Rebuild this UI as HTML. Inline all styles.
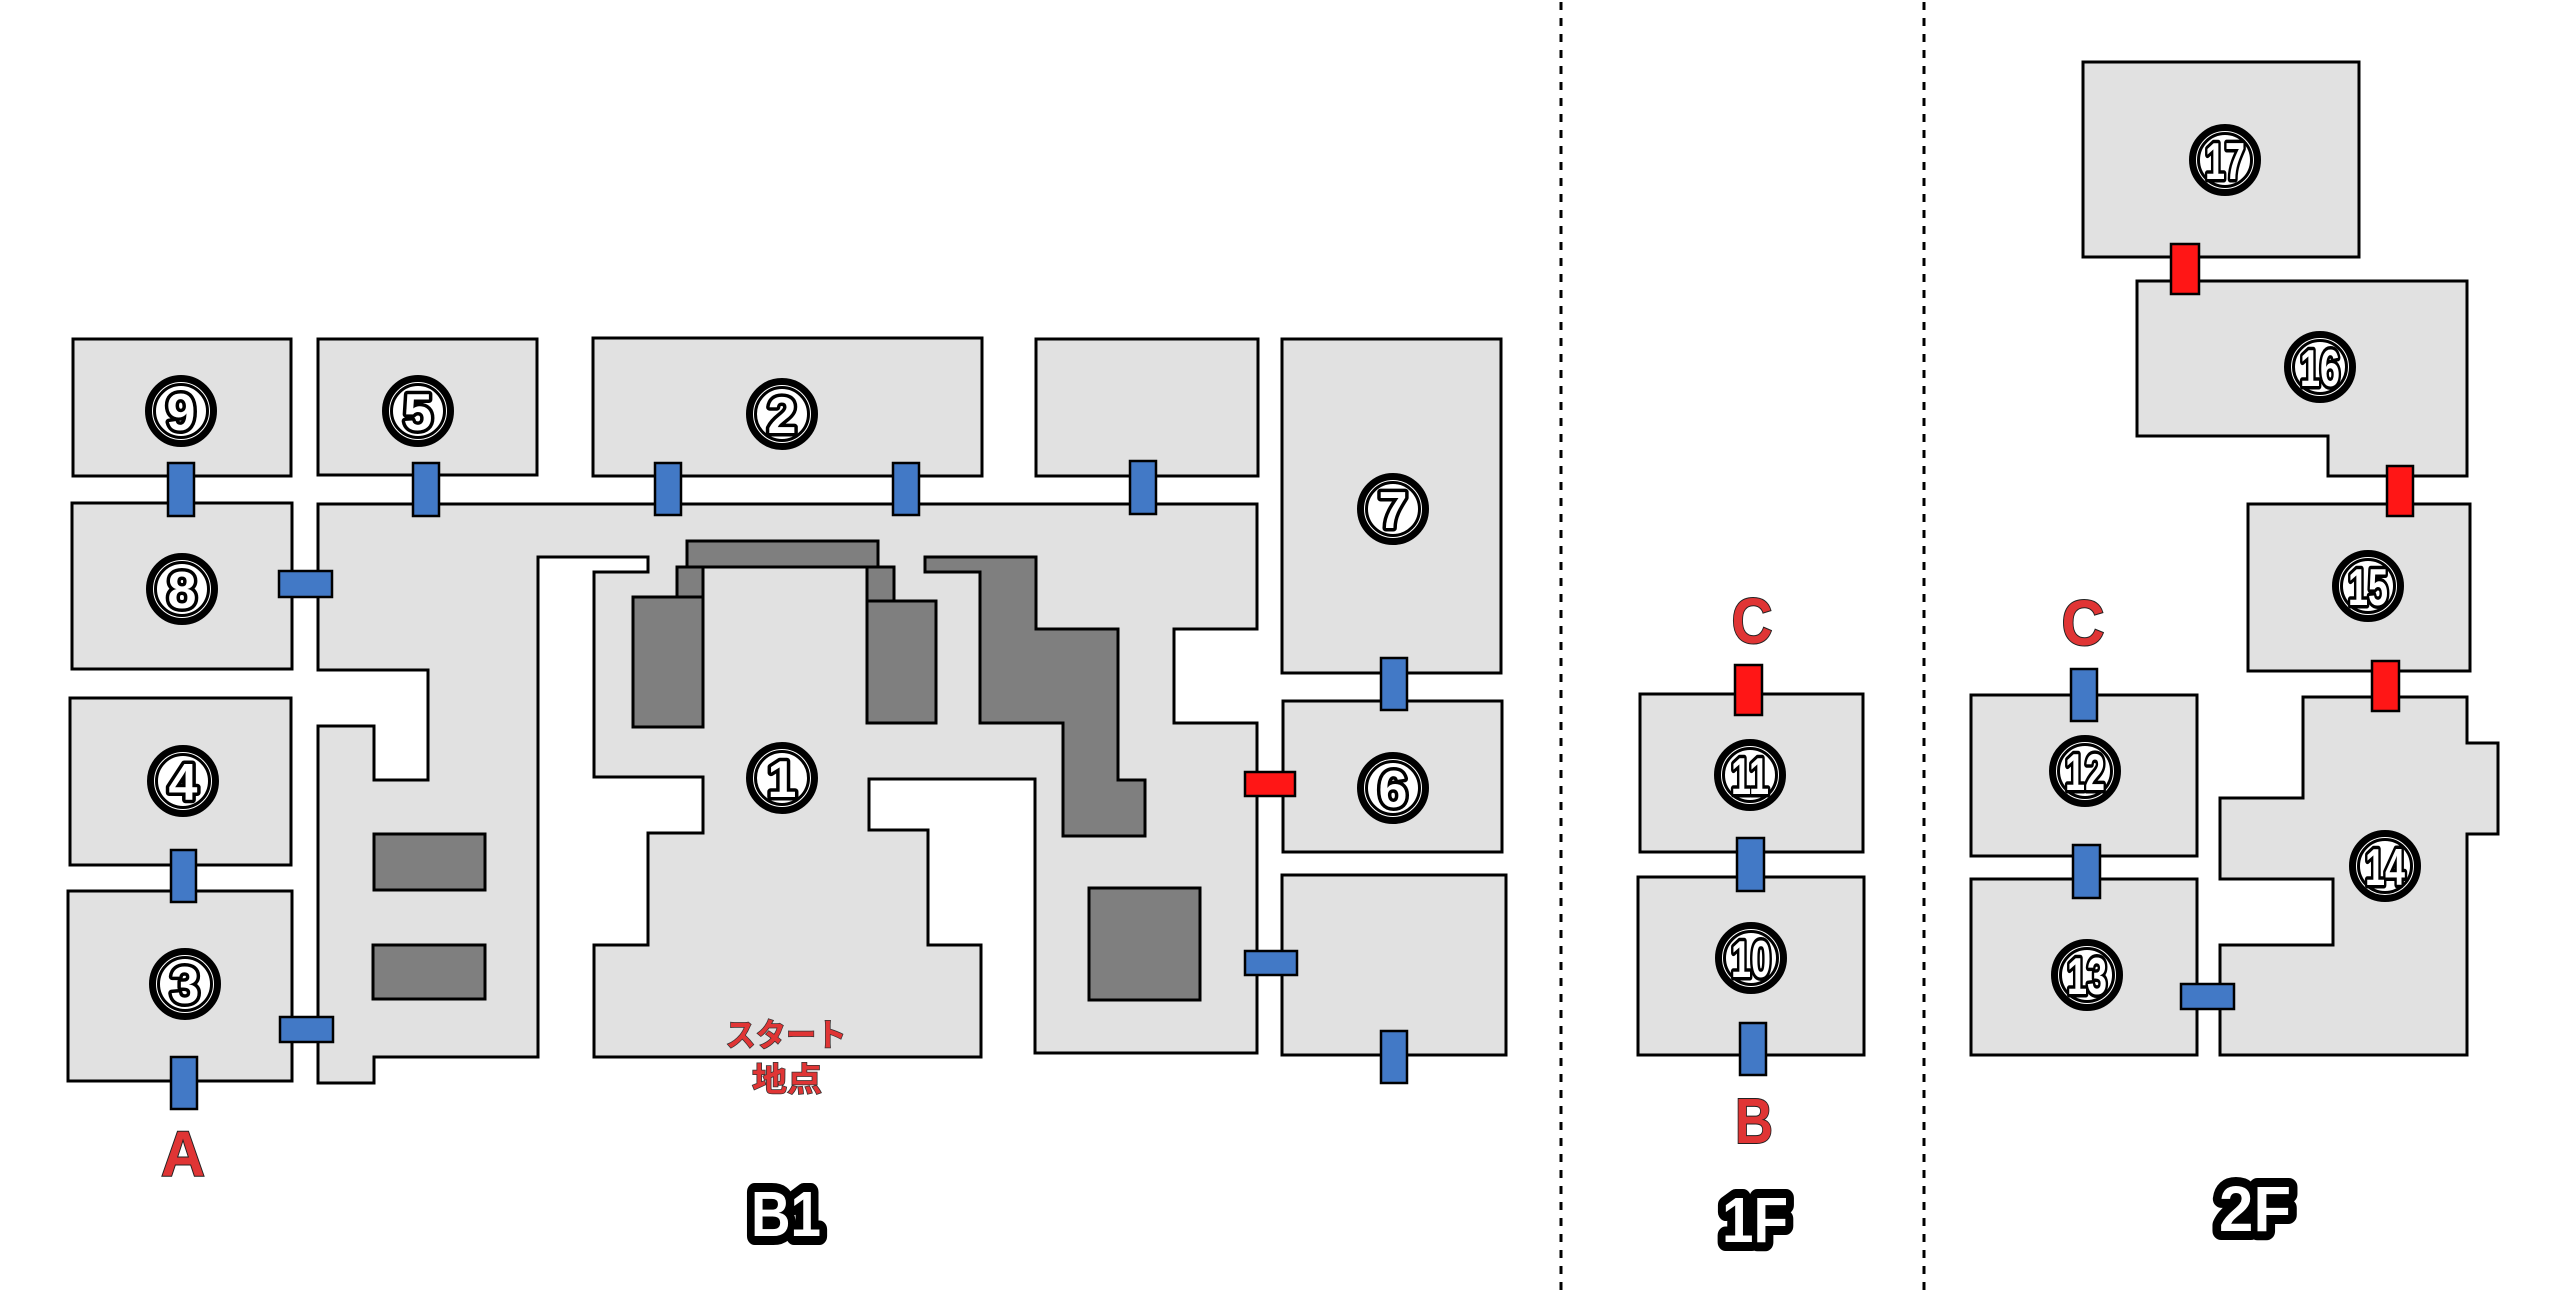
<!DOCTYPE html>
<html>
<head>
<meta charset="utf-8">
<style>
html,body{margin:0;padding:0;background:#fff;}
body{width:2560px;height:1295px;overflow:hidden;}
svg{display:block;}
.room{fill:#e1e1e1;stroke:#000;stroke-width:3;}
.blk{fill:#7f7f7f;stroke:#000;stroke-width:3;}
.bd{fill:#4279c6;stroke:#000;stroke-width:2.5;}
.rd{fill:#ff1616;stroke:#000;stroke-width:2.5;}
.num{font-family:"Liberation Sans",sans-serif;font-weight:bold;fill:#fff;stroke:#000;stroke-width:7;stroke-linejoin:round;paint-order:stroke;text-anchor:middle;}
.lbl{font-family:"Liberation Sans",sans-serif;font-weight:bold;fill:#e03535;stroke:#222;stroke-width:2;paint-order:stroke;text-anchor:middle;}
.lvl{font-family:"Liberation Sans",sans-serif;font-weight:bold;fill:#fff;stroke:#000;stroke-width:18;stroke-linejoin:round;paint-order:stroke;text-anchor:middle;}
.jp{font-family:"Liberation Sans","Noto Sans CJK JP",sans-serif;font-weight:bold;fill:#e03535;stroke:#333;stroke-width:1.5;paint-order:stroke;text-anchor:middle;}
.c1{fill:#fff;stroke:#000;stroke-width:7;}
.c2{fill:none;stroke:#000;stroke-width:3;}
</style>
</head>
<body>
<svg width="2560" height="1295" viewBox="0 0 2560 1295" xmlns="http://www.w3.org/2000/svg">
<defs>
<g id="ring"><circle class="c1" r="32.5"/><circle class="c2" r="26.5"/></g>
</defs>
<!-- dotted separators -->
<line x1="1561" y1="2" x2="1561" y2="1295" stroke="#000" stroke-width="3" stroke-dasharray="8,8"/>
<line x1="1924" y1="2" x2="1924" y2="1295" stroke="#000" stroke-width="3" stroke-dasharray="8,8"/>

<!-- B1 rooms -->
<rect class="room" x="73" y="339" width="218" height="137"/>
<rect class="room" x="318" y="339" width="219" height="136"/>
<rect class="room" x="593" y="338" width="389" height="138"/>
<rect class="room" x="1036" y="339" width="222" height="137"/>
<rect class="room" x="72" y="503" width="220" height="166"/>
<rect class="room" x="70" y="698" width="221" height="167"/>
<rect class="room" x="68" y="891" width="224" height="190"/>
<rect class="room" x="1282" y="339" width="219" height="334"/>
<rect class="room" x="1283" y="701" width="219" height="151"/>
<rect class="room" x="1282" y="875" width="224" height="180"/>

<path class="room" d="M318,504 L1257,504 L1257,629 L1174,629 L1174,723 L1257,723 L1257,1053 L1035,1053 L1035,779 L869,779 L869,830 L928,830 L928,945 L981,945 L981,1057 L594,1057 L594,945 L648,945 L648,833 L703,833 L703,777 L594,777 L594,572 L648,572 L648,557 L538,557 L538,1057 L374,1057 L374,1083 L318,1083 L318,726 L374,726 L374,780 L428,780 L428,670 L318,670 Z"/>

<!-- dark blocks -->
<rect class="blk" x="687" y="541" width="191" height="26"/>
<rect class="blk" x="677" y="567" width="26" height="30"/>
<rect class="blk" x="633" y="597" width="70" height="130"/>
<rect class="blk" x="867" y="567" width="27" height="34"/>
<rect class="blk" x="867" y="601" width="69" height="122"/>
<path class="blk" d="M925,557 L1036,557 L1036,629 L1118,629 L1118,780 L1145,780 L1145,836 L1063,836 L1063,723 L980,723 L980,572 L925,572 Z"/>
<rect class="blk" x="1089" y="888" width="111" height="112"/>
<rect class="blk" x="374" y="834" width="111" height="56"/>
<rect class="blk" x="373" y="945" width="112" height="54"/>

<!-- 1F rooms -->
<rect class="room" x="1640" y="694" width="223" height="158"/>
<rect class="room" x="1638" y="877" width="226" height="178"/>

<!-- 2F rooms -->
<rect class="room" x="2083" y="62" width="276" height="195"/>
<path class="room" d="M2137,281 L2467,281 L2467,476 L2328,476 L2328,436 L2137,436 Z"/>
<rect class="room" x="2248" y="504" width="222" height="167"/>
<rect class="room" x="1971" y="695" width="226" height="161"/>
<rect class="room" x="1971" y="879" width="226" height="176"/>
<path class="room" d="M2303,697 L2467,697 L2467,743 L2498,743 L2498,834 L2467,834 L2467,1055 L2220,1055 L2220,945 L2333,945 L2333,879 L2220,879 L2220,798 L2303,798 Z"/>

<!-- doors B1 -->
<rect class="bd" x="168" y="463" width="26" height="53"/>
<rect class="bd" x="413" y="463" width="26" height="53"/>
<rect class="bd" x="655" y="463" width="26" height="52"/>
<rect class="bd" x="893" y="463" width="26" height="52"/>
<rect class="bd" x="1130" y="461" width="26" height="53"/>
<rect class="bd" x="279" y="571" width="53" height="26"/>
<rect class="bd" x="171" y="850" width="25" height="52"/>
<rect class="bd" x="280" y="1017" width="53" height="25"/>
<rect class="bd" x="171" y="1057" width="26" height="52"/>
<rect class="bd" x="1381" y="658" width="26" height="52"/>
<rect class="rd" x="1245" y="772" width="50" height="24"/>
<rect class="bd" x="1245" y="951" width="52" height="24"/>
<rect class="bd" x="1381" y="1031" width="26" height="52"/>

<!-- doors 1F -->
<rect class="rd" x="1735" y="665" width="27" height="50"/>
<rect class="bd" x="1737" y="838" width="27" height="53"/>
<rect class="bd" x="1740" y="1023" width="26" height="52"/>

<!-- doors 2F -->
<rect class="rd" x="2171" y="244" width="28" height="50"/>
<rect class="rd" x="2387" y="466" width="26" height="50"/>
<rect class="rd" x="2372" y="661" width="27" height="50"/>
<rect class="bd" x="2071" y="669" width="26" height="52"/>
<rect class="bd" x="2073" y="845" width="27" height="53"/>
<rect class="bd" x="2181" y="984" width="53" height="25"/>

<!-- circled numbers -->
<g>
<g transform="translate(181,411)"><use href="#ring"/><text class="num" y="19" font-size="52">9</text></g>
<g transform="translate(418,411)"><use href="#ring"/><text class="num" y="19" font-size="52">5</text></g>
<g transform="translate(782,414)"><use href="#ring"/><text class="num" y="19" font-size="52">2</text></g>
<g transform="translate(182,589)"><use href="#ring"/><text class="num" y="19" font-size="52">8</text></g>
<g transform="translate(183,781)"><use href="#ring"/><text class="num" y="19" font-size="52">4</text></g>
<g transform="translate(185,984)"><use href="#ring"/><text class="num" y="19" font-size="52">3</text></g>
<g transform="translate(782,778)"><use href="#ring"/><text class="num" y="19" font-size="52">1</text></g>
<g transform="translate(1393,509)"><use href="#ring"/><text class="num" y="19" font-size="52">7</text></g>
<g transform="translate(1393,788)"><use href="#ring"/><text class="num" y="19" font-size="52">6</text></g>
<g transform="translate(1750,775)"><use href="#ring"/><text class="num" y="19" font-size="52" textLength="38" lengthAdjust="spacingAndGlyphs">11</text></g>
<g transform="translate(1751,958)"><use href="#ring"/><text class="num" y="19" font-size="52" textLength="40" lengthAdjust="spacingAndGlyphs">10</text></g>
<g transform="translate(2225,160)"><use href="#ring"/><text class="num" y="19" font-size="52" textLength="40" lengthAdjust="spacingAndGlyphs">17</text></g>
<g transform="translate(2320,367)"><use href="#ring"/><text class="num" y="19" font-size="52" textLength="40" lengthAdjust="spacingAndGlyphs">16</text></g>
<g transform="translate(2368,586)"><use href="#ring"/><text class="num" y="19" font-size="52" textLength="40" lengthAdjust="spacingAndGlyphs">15</text></g>
<g transform="translate(2085,771)"><use href="#ring"/><text class="num" y="19" font-size="52" textLength="40" lengthAdjust="spacingAndGlyphs">12</text></g>
<g transform="translate(2087,975)"><use href="#ring"/><text class="num" y="19" font-size="52" textLength="40" lengthAdjust="spacingAndGlyphs">13</text></g>
<g transform="translate(2385,866)"><use href="#ring"/><text class="num" y="19" font-size="52" textLength="40" lengthAdjust="spacingAndGlyphs">14</text></g>
</g>

<!-- letter labels -->
<text class="lbl" x="183" y="1176" font-size="64" textLength="44" lengthAdjust="spacingAndGlyphs">A</text>
<text class="lbl" x="1754" y="1143" font-size="64" textLength="38" lengthAdjust="spacingAndGlyphs">B</text>
<text class="lbl" x="1752" y="643" font-size="64" textLength="41" lengthAdjust="spacingAndGlyphs">C</text>
<text class="lbl" x="2083" y="645" font-size="64" textLength="43" lengthAdjust="spacingAndGlyphs">C</text>

<!-- start label -->
<text class="jp" x="786" y="1046" font-size="32" textLength="121" lengthAdjust="spacingAndGlyphs">スタート</text>
<text class="jp" x="787" y="1091" font-size="33" textLength="70" lengthAdjust="spacingAndGlyphs">地点</text>

<!-- level labels -->
<text class="lvl" x="786" y="1236" font-size="64" textLength="70" lengthAdjust="spacingAndGlyphs">B1</text>
<text class="lvl" x="1755" y="1242" font-size="64" textLength="66" lengthAdjust="spacingAndGlyphs">1F</text>
<text class="lvl" x="2255" y="1231" font-size="64" textLength="72" lengthAdjust="spacingAndGlyphs">2F</text>
</svg>
</body>
</html>
